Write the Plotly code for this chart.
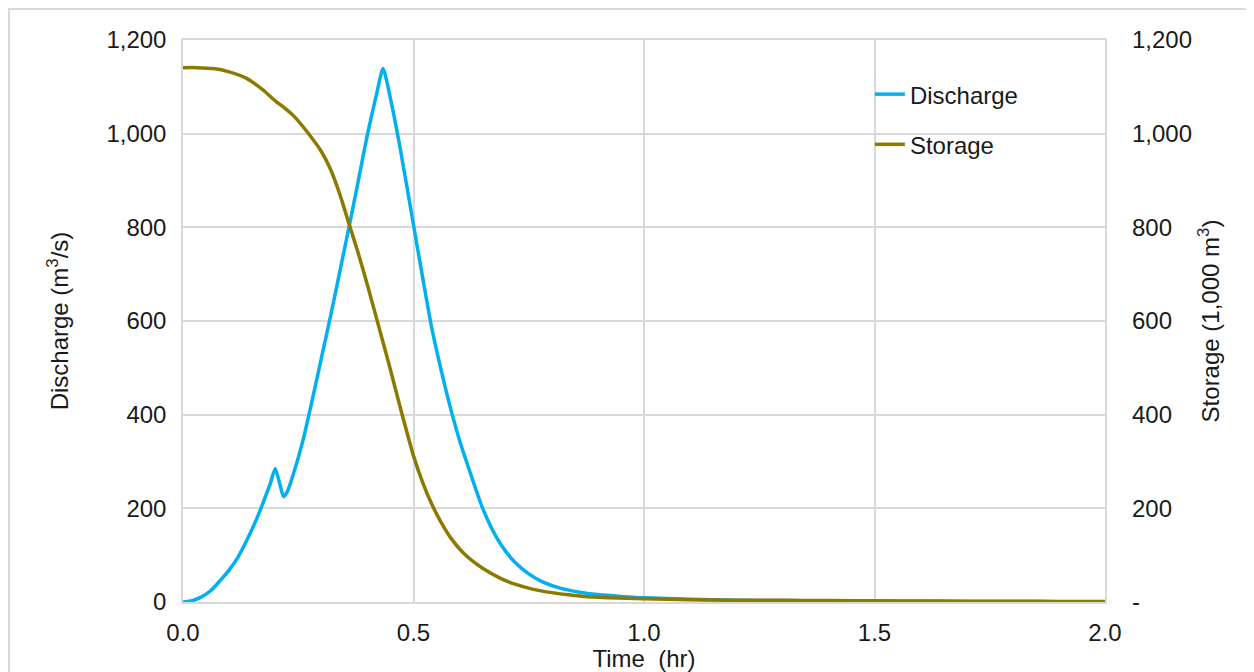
import plotly.graph_objects as go

# ---- data ----
time_q = [0, 0.02, 0.04, 0.06, 0.08, 0.10, 0.12, 0.14, 0.16, 0.18, 0.19, 0.20, 0.21, 0.218,
          0.226, 0.24, 0.26, 0.28, 0.30, 0.32, 0.34, 0.36, 0.38, 0.40, 0.42, 0.434, 0.45, 0.47,
          0.50, 0.52, 0.54, 0.56, 0.58, 0.60, 0.62, 0.65, 0.68, 0.70, 0.72, 0.75, 0.78,
          0.82, 0.86, 0.90, 0.95, 1.0, 1.1, 1.2, 1.3, 1.4, 1.5, 1.6, 1.7, 1.8, 1.9, 2.0]
discharge = [0, 3, 11, 24, 45, 68, 97, 135, 178, 228, 255, 285, 252, 225,
             235, 275, 344, 430, 520, 610, 705, 800, 898, 998, 1085, 1139, 1075, 975,
             805, 692, 583, 495, 415, 345, 285, 200, 138, 108, 85, 60, 43,
             29, 21, 16, 12, 9, 6, 4, 3, 2.5, 2, 1.5, 1.2, 1, 0.8, 0.5]

time_s = [0, 0.03, 0.066, 0.10, 0.138, 0.174, 0.20, 0.22, 0.24, 0.27, 0.30, 0.32, 0.34,
          0.36, 0.38, 0.40, 0.42, 0.45, 0.47, 0.50, 0.52, 0.54, 0.56, 0.58, 0.61, 0.65,
          0.69, 0.72, 0.76, 0.80, 0.85, 0.90, 1.0, 1.1, 1.2, 1.3, 1.4, 1.5, 1.6, 1.7,
          1.8, 1.9, 2.0]
storage = [1141, 1141, 1139, 1132, 1118, 1093, 1070, 1055, 1038, 1003, 962, 924, 871,
           808, 745, 677, 605, 496, 420, 312, 255, 208, 170, 138, 103, 72,
           50, 38, 27, 20, 14, 10, 7, 5, 4, 3.5, 3, 2.5, 2, 1.8,
           1.5, 1.3, 1]

x_ticks = [0, 0.5, 1.0, 1.5, 2.0]
x_labels = ["0.0", "0.5", "1.0", "1.5", "2.0"]
y_ticks = [0, 200, 400, 600, 800, 1000, 1200]
y_labels = ["0", "200", "400", "600", "800", "1,000", "1,200"]
y2_labels = ["-", "200", "400", "600", "800", "1,000", "1,200"]

BLUE = "#00B0F0"
GOLD = "#8C7A00"
GRID = "#d9d9d9"
TXT = "#1a1a1a"
FONT = "Liberation Sans, Arial, sans-serif"

fig = go.Figure()
fig.add_trace(go.Scatter(x=time_q, y=discharge, name="Discharge", mode="lines",
                         line=dict(color=BLUE, width=3.5, shape="spline", smoothing=0.6),
                         legendgroup="a"))
fig.add_trace(go.Scatter(x=time_s, y=storage, name="Storage", mode="lines",
                         line=dict(color=GOLD, width=3.5, shape="spline", smoothing=0.6),
                         yaxis="y2", legendgroup="b"))

fig.update_layout(
    width=1246, height=664,
    margin=dict(l=175, r=149, t=32, b=70, autoexpand=False),
    paper_bgcolor="white", plot_bgcolor="white",
    font=dict(family=FONT, size=24, color=TXT),
    showlegend=True,
    legend=dict(x=0.745, y=0.943, xanchor="left", yanchor="top",
                bgcolor="rgba(0,0,0,0)", font=dict(size=24),
                traceorder="grouped", tracegroupgap=16),
    xaxis=dict(range=[0, 2], tickvals=x_ticks, ticktext=x_labels,
               showgrid=True, gridcolor=GRID, gridwidth=1.5,
               showline=True, linecolor=GRID, linewidth=1.5, mirror=True,
               zeroline=False, ticks="", ticklabelstandoff=8,
               title=dict(text="Time  (hr)", standoff=2, font=dict(size=24)),
               automargin=False),
    yaxis=dict(range=[0, 1200], tickvals=y_ticks, ticktext=y_labels,
               showgrid=True, gridcolor=GRID, gridwidth=1.5,
               showline=True, linecolor=GRID, linewidth=1.5, mirror=True,
               zeroline=False, ticks="", ticklabelstandoff=10,
               title=dict(text="Discharge (m<sup>3</sup>/s)", standoff=31, font=dict(size=24)),
               automargin=False),
    yaxis2=dict(range=[0, 1200], tickvals=y_ticks, ticktext=y2_labels,
                overlaying="y", side="right", showgrid=False, zeroline=False,
                showline=False, ticks="", ticklabelstandoff=26,
                title=dict(text="Storage (1,000 m<sup>3</sup>)", standoff=11, font=dict(size=24)),
                automargin=False),
)

# outer chart border (decorative frame)
fig.add_shape(type="rect", xref="paper", yref="paper",
              x0=-0.1887, x1=1.25, y0=-0.25, y1=1.055,
              line=dict(color=GRID, width=2), layer="below")

fig.write_html("out.html")
